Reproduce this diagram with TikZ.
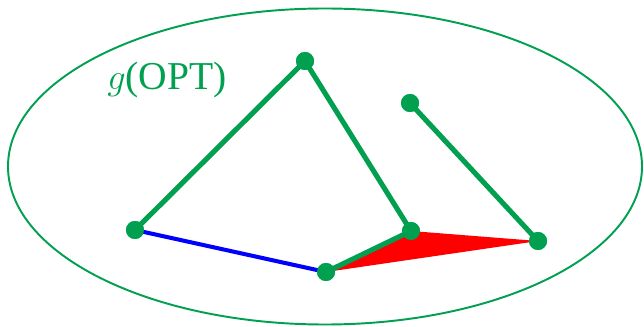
\documentclass[tikz,border=0pt]{standalone}
\usepackage{xcolor}
\usepackage{fontspec}
\setmainfont{Liberation Serif}
\usepackage{tikz}
\usetikzlibrary{positioning}
\definecolor{figgreen}{RGB}{0,160,80}
\definecolor{figblue}{RGB}{0,0,255}
\definecolor{figred}{RGB}{255,0,0}
\tikzstyle{vertex} = [circle, fill=figgreen, inner sep=0pt, minimum size=0.36cm]
\tikzstyle{optedge} = [draw=figgreen, line width=2.9pt]
\tikzstyle{newedge} = [draw=figblue, line width=2.3pt]

\begin{document}
\begin{tikzpicture}[x=0.02cm, y=-0.02cm]
    \useasboundingbox (0,0) rectangle (644,327);
    \draw[figgreen, line width=1.1pt] (325,166.5) ellipse [x radius=317, y radius=158];
    \node[text=figgreen, font=\fontsize{22.5}{26}\selectfont] (lbl) at (167,80) {$g$(OPT)};

    \node (top)   [vertex] at (305,61)  {};
    \node (left)  [vertex] at (135,230) {};
    \node (bot)   [vertex] at (326,272) {};
    \node (mid)   [vertex] at (411,231) {};
    \node (up)    [vertex] at (410,103) {};
    \node (right) [vertex] at (538,241) {};

    \fill[figred] (bot.center) -- (mid.center) -- (right.center) -- cycle;
    \draw[newedge] (left.center) -- (bot.center);
    \draw[optedge] (left.center) -- (top.center) -- (mid.center) -- (bot.center);
    \draw[optedge] (up.center) -- (right.center);

    % dots on top of the edges
    \foreach \v in {top, left, bot, mid, up, right}
        \fill[figgreen] (\v) circle [radius=0.18cm];
\end{tikzpicture}
\end{document}
